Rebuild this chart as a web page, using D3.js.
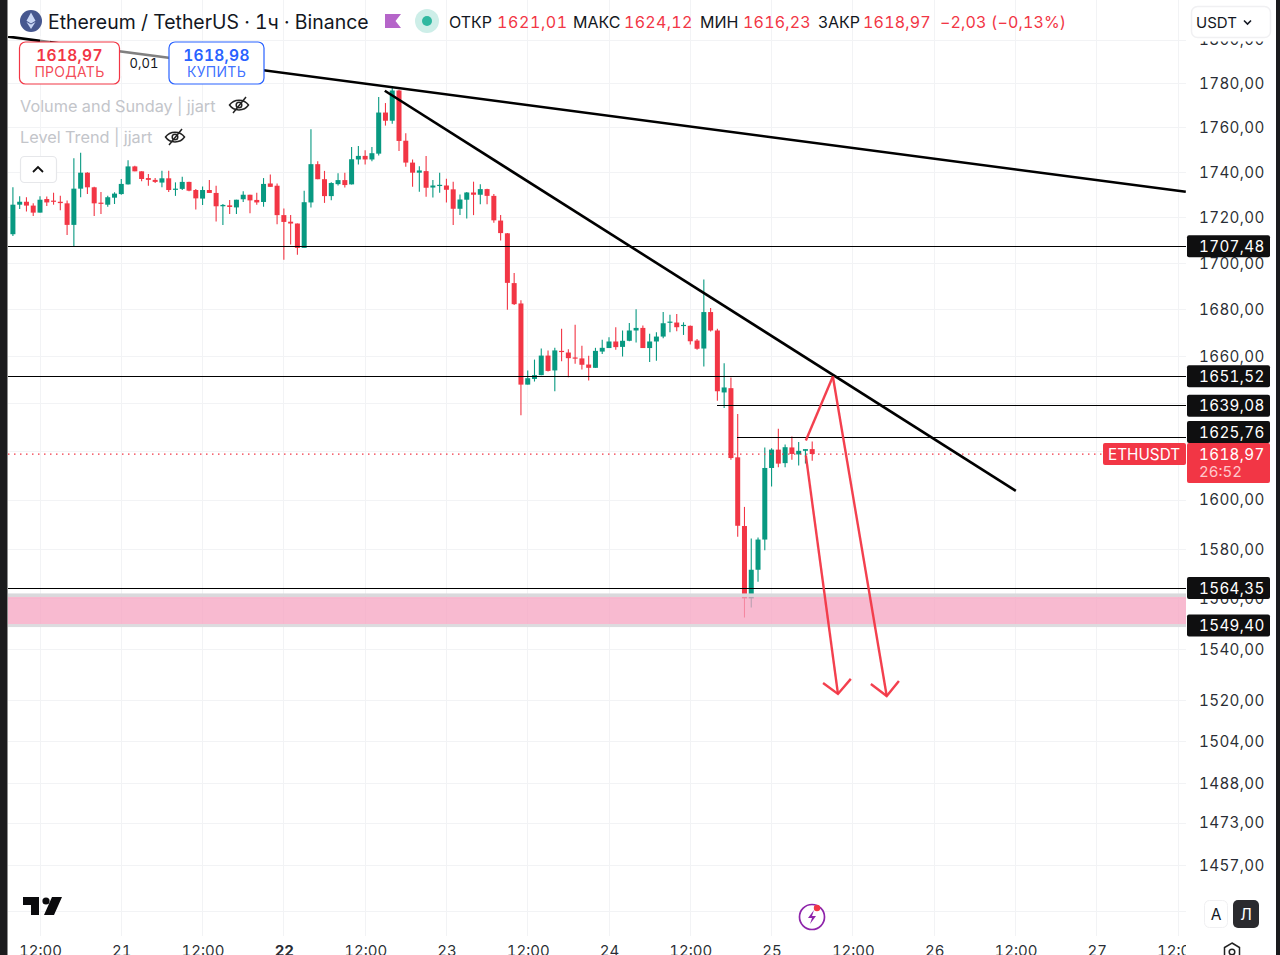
<!DOCTYPE html>
<html><head><meta charset="utf-8">
<style>html,body{margin:0;padding:0;background:#1b1b1d;overflow:hidden}svg{display:block}
text{font-family:Inter,"Noto Sans",sans-serif;font-feature-settings:"tnum" 1}</style>
<script src="https://cdn.jsdelivr.net/npm/d3@7/dist/d3.min.js"></script></head><body>
<svg id="c" width="1280" height="955"></svg>
<script>
// hours are counted from the 12:00 candle of the 20th; the first candle is hour -4
const firstHour=-4;
const opens=[1712.7,1725.7,1727.0,1725.3,1722.2,1728.2,1727.5,1727.0,1726.3,1716.8,1732.8,1739.9,1733.4,1726.6,1725.7,1728.8,1730.4,1734.7,1742.7,1740.5,1737.5,1736.7,1735.5,1737.4,1732.4,1732.7,1735.8,1732.2,1728.4,1732.2,1730.9,1725.0,1725.4,1724.5,1728.1,1730.1,1727.8,1726.9,1735.1,1734.1,1721.1,1718.2,1717.4,1706.7,1726.7,1743.7,1737.0,1729.5,1734.8,1736.6,1734.7,1745.8,1747.4,1745.8,1748.4,1766.9,1763.2,1776.9,1754.2,1744.4,1739.9,1740.6,1733.3,1734.2,1734.2,1732.5,1723.9,1727.9,1731.1,1730.1,1732.6,1729.6,1718.7,1713.1,1691.4,1682.6,1648.0,1650.4,1652.0,1660.3,1654.0,1662.3,1661.6,1659.5,1659.1,1656.5,1655.1,1662.0,1663.5,1666.3,1664.0,1666.6,1671.0,1672.1,1663.5,1666.3,1668.4,1674.4,1674.4,1673.1,1673.0,1666.7,1663.3,1678.9,1671.0,1644.7,1646.5,1617.6,1589.4,1560.2,1571.7,1583.9,1613.2,1620.8,1615.2,1621.7,1618.8,1620.3,1621.01];
const highs=[1733.4,1729.4,1729.0,1726.3,1729.4,1729.3,1731.0,1729.7,1727.5,1746.3,1748.8,1740.1,1733.7,1731.3,1729.7,1731.2,1737.1,1745.5,1743.0,1740.5,1739.3,1737.5,1740.8,1740.8,1735.6,1738.1,1735.9,1732.7,1733.8,1736.7,1734.1,1726.0,1727.8,1727.9,1731.6,1730.1,1731.0,1737.5,1739.1,1735.1,1724.0,1721.1,1717.4,1731.9,1759.4,1745.0,1740.7,1735.6,1739.6,1739.9,1751.4,1751.8,1749.9,1751.4,1773.9,1771.2,1778.9,1777.3,1757.6,1745.8,1742.8,1747.3,1736.6,1739.9,1737.2,1735.9,1730.2,1731.3,1735.9,1734.8,1732.8,1730.4,1721.1,1713.2,1695.8,1684.0,1654.0,1658.6,1663.3,1662.5,1663.6,1671.7,1663.0,1673.5,1664.5,1660.2,1663.6,1667.0,1668.1,1672.4,1671.0,1674.2,1680.1,1673.1,1669.6,1670.3,1678.9,1677.8,1678.1,1674.5,1673.1,1667.4,1693.0,1680.6,1671.7,1657.0,1651.0,1635.7,1597.2,1584.3,1584.7,1621.7,1621.4,1629.5,1622.9,1626.2,1624.0,1620.8,1624.12];
const lows=[1711.9,1723.8,1722.7,1720.7,1722.2,1725.1,1725.7,1723.3,1712.4,1707.1,1729.0,1730.4,1720.7,1721.6,1724.8,1726.0,1730.1,1734.6,1740.5,1736.1,1734.1,1735.3,1733.4,1731.3,1729.6,1732.2,1731.6,1723.6,1725.6,1730.9,1718.3,1716.8,1721.6,1721.6,1726.9,1721.9,1725.7,1724.8,1733.6,1717.1,1701.5,1708.2,1703.7,1706.7,1724.5,1737.0,1726.5,1727.7,1734.2,1733.3,1734.7,1743.6,1743.6,1745.0,1747.6,1761.0,1761.8,1749.6,1742.5,1733.6,1731.4,1729.2,1728.9,1731.0,1726.7,1716.8,1721.2,1719.6,1721.1,1725.9,1725.9,1717.7,1710.0,1679.9,1681.9,1635.1,1648.0,1649.3,1652.0,1653.5,1645.2,1657.9,1651.1,1656.8,1654.4,1649.7,1655.1,1661.0,1663.5,1662.8,1659.9,1666.4,1665.9,1663.5,1657.6,1658.1,1667.7,1670.3,1670.7,1669.1,1665.0,1662.8,1655.7,1670.6,1641.2,1638.2,1616.6,1585.0,1552.6,1556.6,1566.9,1579.6,1605.6,1613.5,1613.5,1616.6,1614.2,1615.0,1616.23];
const closes=[1725.7,1727.0,1725.3,1722.2,1727.9,1726.7,1727.2,1726.4,1716.8,1732.8,1739.9,1733.4,1726.3,1726.1,1729.0,1730.6,1734.9,1742.7,1740.5,1737.1,1736.7,1735.8,1737.4,1732.2,1732.8,1735.8,1731.9,1728.5,1732.2,1730.9,1725.0,1725.6,1724.7,1727.9,1730.1,1727.6,1726.7,1734.9,1733.6,1721.1,1718.1,1717.4,1706.7,1726.8,1743.7,1737.0,1729.5,1735.3,1736.6,1734.4,1745.9,1747.4,1745.8,1748.6,1766.9,1763.2,1776.9,1754.1,1744.4,1739.9,1740.9,1733.2,1734.2,1734.5,1732.3,1723.9,1728.0,1731.1,1730.1,1732.6,1729.6,1718.8,1713.2,1691.5,1682.3,1648.0,1650.7,1652.0,1660.3,1653.8,1662.5,1661.8,1659.2,1659.2,1656.4,1655.1,1662.3,1663.6,1666.3,1663.9,1666.6,1671.0,1672.1,1663.5,1666.3,1668.4,1674.1,1674.8,1672.4,1673.4,1666.4,1663.2,1678.9,1671.0,1645.2,1646.8,1617.3,1589.5,1560.2,1571.7,1583.9,1613.2,1620.8,1615.0,1621.8,1619.0,1620.3,1621.0,1618.97];

const priceTicks=[1800,1780,1760,1740,1720,1700,1680,1660,1640,1600,1580,1560,1540,1520,1504,1488,1473,1457];
const gridOnlyPrices=[1620,1440];
const timeHours=[0,12,24,36,48,60,72,84,96,108,120,132,144,156,168];
const timeLabels=["12:00","21","12:00","22","12:00","23","12:00","24","12:00","25","12:00","26","12:00","27","12:00"];
const boldLabels=["22"];
const levels=[{p:1707.48,from:-5},{p:1651.52,from:-5},{p:1639.08,from:99.9},{p:1625.76,from:102.9},{p:1564.35,from:-5}];
const levelTags=[1707.48,1651.52,1639.08,1625.76,1564.35,1549.40];
const zoneTop=1561.8, zoneBottom=1549.40;
const lastPrice=1618.97;
const trend1=[[-4.72,1801.6],[169.15,1731.4]];
const trend2=[[50.9,1776.8],[144.06,1603.8]];
const arrowUp=[[113.06,1624.6],[117.05,1651.4]];
const arrowA=[[113.06,1618.4],[117.8,1522.5]];
const arrowAHead=[[115.6,1526.8],[117.8,1522.5],[119.7,1528.4]];
const arrowB=[[117.05,1651.4],[125.0,1521.7]];
const arrowBHead=[[122.66,1526.4],[125.0,1521.7],[126.8,1527.6]];
const headerItems=[["ОТКР",449,"#131722",0],["1621,01",497,"#f23645",.6],["МАКС",573,"#131722",0],["1624,12",624,"#f23645",.3],["МИН",700,"#131722",0],["1616,23",743,"#f23645",.2],["ЗАКР",818,"#131722",0],["1618,97",863,"#f23645",.2],["−2,03 (−0,13%)",940,"#f23645",.15]];

const RED="#f23645",GREEN="#089981",INK="#131722";
const fmt=v=>d3.format(".2f")(v).replace(".",",");
const x=d3.scaleLinear().domain([0,168]).range([40,1178]);
const y=d3.scaleLog().domain([1457,1780]).range([865.7,83.7]);
const svg=d3.select("#c");
const defs=svg.append("defs");
defs.append("clipPath").attr("id","plot").append("rect").attr("x",8).attr("y",36).attr("width",1178).attr("height",900);
defs.append("clipPath").attr("id","gridclip").append("rect").attr("x",8).attr("y",0).attr("width",1178).attr("height",936);
defs.append("clipPath").attr("id","xaxis").append("rect").attr("x",8).attr("y",930).attr("width",1178).attr("height",30);
// page
svg.append("rect").attr("x",7.5).attr("y",-20).attr("width",1268.5).attr("height",1000).attr("rx",14).attr("fill","#fff");
// grid
const grid=svg.append("g").attr("clip-path","url(#gridclip)").attr("stroke","#f2f3f5").attr("stroke-width",1).attr("shape-rendering","crispEdges");
grid.selectAll(".v").data(timeHours).join("line").attr("x1",d=>x(d)).attr("x2",d=>x(d)).attr("y1",0).attr("y2",936);
grid.selectAll(".h").data(priceTicks.concat(gridOnlyPrices)).join("line").attr("x1",8).attr("x2",1186).attr("y1",d=>y(d)).attr("y2",d=>y(d));
// candles
const plot=svg.append("g").attr("clip-path","url(#plot)");
const idx=d3.range(opens.length);
const col=i=>closes[i]>=opens[i]?GREEN:RED;
plot.selectAll(".w").data(idx).join("line").attr("x1",i=>x(firstHour+i)).attr("x2",i=>x(firstHour+i)).attr("y1",i=>y(highs[i])).attr("y2",i=>y(lows[i])).attr("stroke",col).attr("stroke-width",1.1);
plot.selectAll(".b").data(idx).join("rect").attr("x",i=>x(firstHour+i)-2.5).attr("width",5)
 .attr("y",i=>y(Math.max(opens[i],closes[i]))).attr("height",i=>Math.max(1.2,Math.abs(y(opens[i])-y(closes[i])))).attr("fill",col);
// zone
plot.append("rect").attr("x",8).attr("width",1178).attr("y",y(zoneTop)).attr("height",y(zoneBottom)-y(zoneTop)).attr("fill","#f5a3c0").attr("fill-opacity",.75);
plot.append("rect").attr("x",8).attr("width",1178).attr("y",y(zoneTop)-1).attr("height",3.5).attr("fill","#d9d9dc");
plot.append("rect").attr("x",8).attr("width",1178).attr("y",y(zoneBottom)-1.5).attr("height",3).attr("fill","#dcdcdf");
// last price line
plot.append("line").attr("x1",8).attr("x2",1186).attr("y1",y(lastPrice)).attr("y2",y(lastPrice)).attr("stroke",RED).attr("stroke-width",1.3).attr("stroke-dasharray","1.5 4.5");
// levels
plot.selectAll(".lv").data(levels).join("line").attr("x1",d=>x(d.from)).attr("x2",1186).attr("y1",d=>y(d.p)).attr("y2",d=>y(d.p)).attr("stroke","#000").attr("stroke-width",1).attr("shape-rendering","crispEdges");
// trend lines and arrows
const ln=d3.line().x(d=>x(d[0])).y(d=>y(d[1]));
[trend1,trend2].forEach(t=>plot.append("path").attr("d",ln(t)).attr("fill","none").attr("stroke","#000").attr("stroke-width",2.6));
[arrowUp,arrowA,arrowAHead,arrowB,arrowBHead].forEach(t=>plot.append("path").attr("d",ln(t)).attr("fill","none").attr("stroke",RED).attr("stroke-opacity",.95).attr("stroke-width",2.4));
// price axis
const priceAxis=d3.axisRight(y).tickValues(priceTicks).tickSize(0).tickPadding(0).tickFormat(fmt);
const pa=svg.append("g").attr("transform","translate(1199,0)").call(priceAxis);
pa.select(".domain").remove();
pa.selectAll("text").attr("font-size",15.2).attr("fill",INK).attr("letter-spacing",".35").attr("fill-opacity",.92);
// level tags: a tag that would run into the last-price tag sits right above it
const tagFill="#0f0f10";
const tagCentre=d=>{const c=y(d);return (c+11>443&&c<483)?432:c;};
const tags=svg.append("g").selectAll("g").data(levelTags).join("g").attr("transform",d=>`translate(0,${tagCentre(d)})`);
tags.append("rect").attr("x",1187).attr("y",-11).attr("width",83).attr("height",22).attr("rx",2).attr("fill",tagFill);
tags.append("text").attr("x",1199).attr("y",5.5).attr("font-size",15.2).attr("letter-spacing",".35").attr("fill","#fff").text(fmt);
// last price tag
svg.append("rect").attr("x",1187).attr("y",443).attr("width",83).attr("height",40).attr("rx",2).attr("fill",RED);
svg.append("text").attr("x",1199).attr("y",y(lastPrice)+5.5).attr("font-size",15.2).attr("letter-spacing",".35").attr("fill","#fff").text(fmt(lastPrice));
svg.append("text").attr("x",1199).attr("y",477).attr("font-size",15).attr("fill","#ffc7cc").text("26:52");
svg.append("rect").attr("x",1103).attr("y",443).attr("width",83).attr("height",22).attr("rx",2).attr("fill",RED);
svg.append("text").attr("x",1108).attr("y",459.5).attr("font-size",15.3).attr("fill","#fff").text("ETHUSDT");
// time axis
const timeAxis=d3.axisBottom(x).tickValues(timeHours).tickSize(0).tickPadding(0).tickFormat((d,i)=>timeLabels[i]);
const ta=svg.append("g").attr("clip-path","url(#xaxis)").append("g").attr("transform","translate(0,945)").call(timeAxis);
ta.select(".domain").remove();
ta.selectAll("text").attr("font-size",15).attr("fill",INK).attr("fill-opacity",.92).attr("font-weight",(d,i)=>boldLabels.includes(timeLabels[i])?700:400);
// header band
const hd=svg.append("g");
hd.append("circle").attr("cx",31).attr("cy",21).attr("r",11).attr("fill","#46578f");
hd.append("path").attr("d","M31 12.5l4.5 8.3-4.5 2.7-4.5-2.7zM31 24.6l4.5-2.7-4.5 7-4.5-7z").attr("fill","#c9d6f5");
hd.append("text").attr("x",48).attr("y",29).attr("font-size",19.45).attr("fill",INK).text("Ethereum / TetherUS · 1ч · Binance");
hd.append("path").attr("d","M385 14h16l-5.5 7 5.5 7h-16z").attr("fill","#b565c9");
hd.append("circle").attr("cx",427).attr("cy",21).attr("r",12).attr("fill","#cdeee8");
hd.append("circle").attr("cx",427).attr("cy",21).attr("r",5).attr("fill","#2fb8a0");
hd.selectAll(".hi").data(headerItems).join("text").attr("x",d=>d[1]).attr("y",27.5).attr("font-size",16).attr("letter-spacing",d=>d[3]).attr("fill",d=>d[2]).text(d=>d[0]);
// currency box sits on a white cover that hides most of the top tick
hd.append("rect").attr("x",1187).attr("y",0).attr("width",88).attr("height",41.5).attr("fill","#fff");
hd.append("rect").attr("x",1191.5).attr("y",6.5).attr("width",79).attr("height",31).attr("rx",6).attr("fill","#fff").attr("stroke","#f0f0f2").attr("stroke-width",1.5);
hd.append("text").attr("x",1196).attr("y",28).attr("font-size",15).attr("fill",INK).text("USDT");
hd.append("path").attr("d","M1244 20.5l3.5 3.5 3.5-3.5").attr("fill","none").attr("stroke",INK).attr("stroke-width",1.6);
// faded part of the first trend line
svg.append("rect").attr("x",120).attr("y",44).attr("width",49).attr("height",32).attr("fill","#fff").attr("fill-opacity",.5);
svg.append("rect").attr("x",40).attr("y",36).attr("width",10).attr("height",8).attr("fill","#fff").attr("fill-opacity",.5);
// trade buttons
function btn(xp,w,color,price,label){
 svg.append("rect").attr("x",xp).attr("y",42).attr("width",w).attr("height",42).attr("rx",6).attr("fill","#fff").attr("stroke",color).attr("stroke-width",1.2);
 svg.append("text").attr("x",xp+w/2).attr("y",60.5).attr("text-anchor","middle").attr("font-size",15.5).attr("font-weight",600).attr("letter-spacing",".3").attr("fill",color).text(price);
 svg.append("text").attr("x",xp+w/2).attr("y",77).attr("text-anchor","middle").attr("font-size",14).attr("letter-spacing",".3").attr("fill",color).attr("fill-opacity",.9).text(label);
}
btn(19.5,100,RED,"1618,97","ПРОДАТЬ");
btn(169,95,"#2962ff","1618,98","КУПИТЬ");
svg.append("text").attr("x",144).attr("y",68).attr("text-anchor","middle").attr("font-size",13).attr("fill",INK).text("0,01");
// indicator legend
function eye(cx,cy){
 const g=svg.append("g").attr("transform",`translate(${cx},${cy})`).attr("fill","none").attr("stroke","#222").attr("stroke-width",1.5);
 g.append("path").attr("d","M-9.5 0C-5-6.5 5-6.5 9.5 0C5 6.5-5 6.5-9.5 0Z");
 g.append("circle").attr("r",2.8);
 g.append("path").attr("d","M-6 8L7-8");
}
svg.append("text").attr("x",20).attr("y",112).attr("font-size",16.3).attr("fill","#c3c5ca").text("Volume and Sunday | jjart");
eye(239,105);
svg.append("text").attr("x",20).attr("y",143).attr("font-size",16.3).attr("fill","#c3c5ca").text("Level Trend | jjart");
eye(175,137);
svg.append("rect").attr("x",20.5).attr("y",156.5).attr("width",36).attr("height",26).attr("rx",4).attr("fill","#fff").attr("stroke","#e6e7ea").attr("stroke-width",1.2);
svg.append("path").attr("d","M33 172l5-5 5 5").attr("fill","none").attr("stroke","#111").attr("stroke-width",1.8);
// logo
svg.append("path").attr("d","M23 897h16v18h-8v-10h-8zM44 915l8-18h10l-8 18z").attr("fill","#0b0b0d");
svg.append("circle").attr("cx",46).attr("cy",901).attr("r",3.6).attr("fill","#0b0b0d");
// lightning badge
const bolt=svg.append("g").attr("transform","translate(812,917)");
bolt.append("circle").attr("r",12.5).attr("fill","#fff").attr("stroke","#8e24aa").attr("stroke-width",1.7);
bolt.append("path").attr("d","M2-7l-6 8h4l-2 6 6-8h-4z").attr("fill","#8e24aa");
bolt.append("circle").attr("cx",5).attr("cy",-9).attr("r",3.2).attr("fill",RED);
// A / Л toggles
svg.append("rect").attr("x",1204.5).attr("y",900.5).attr("width",23).attr("height",27).attr("rx",5).attr("fill","#fff").attr("stroke","#f0f0f2");
svg.append("text").attr("x",1216).attr("y",920).attr("text-anchor","middle").attr("font-size",15.5).attr("fill",INK).text("А");
svg.append("rect").attr("x",1233).attr("y",900).attr("width",26).attr("height",28).attr("rx",5).attr("fill","#2a2a2e");
svg.append("text").attr("x",1246).attr("y",920).attr("text-anchor","middle").attr("font-size",15.5).attr("fill","#fff").text("Л");
// gear
const gear=svg.append("g").attr("transform","translate(1232,952)").attr("fill","none").attr("stroke","#222").attr("stroke-width",1.5);
gear.append("path").attr("d","M0-9l7.5 4.5v9L0 9l-7.5-4.5v-9z");
gear.append("circle").attr("r",2.8);
</script></body></html>
